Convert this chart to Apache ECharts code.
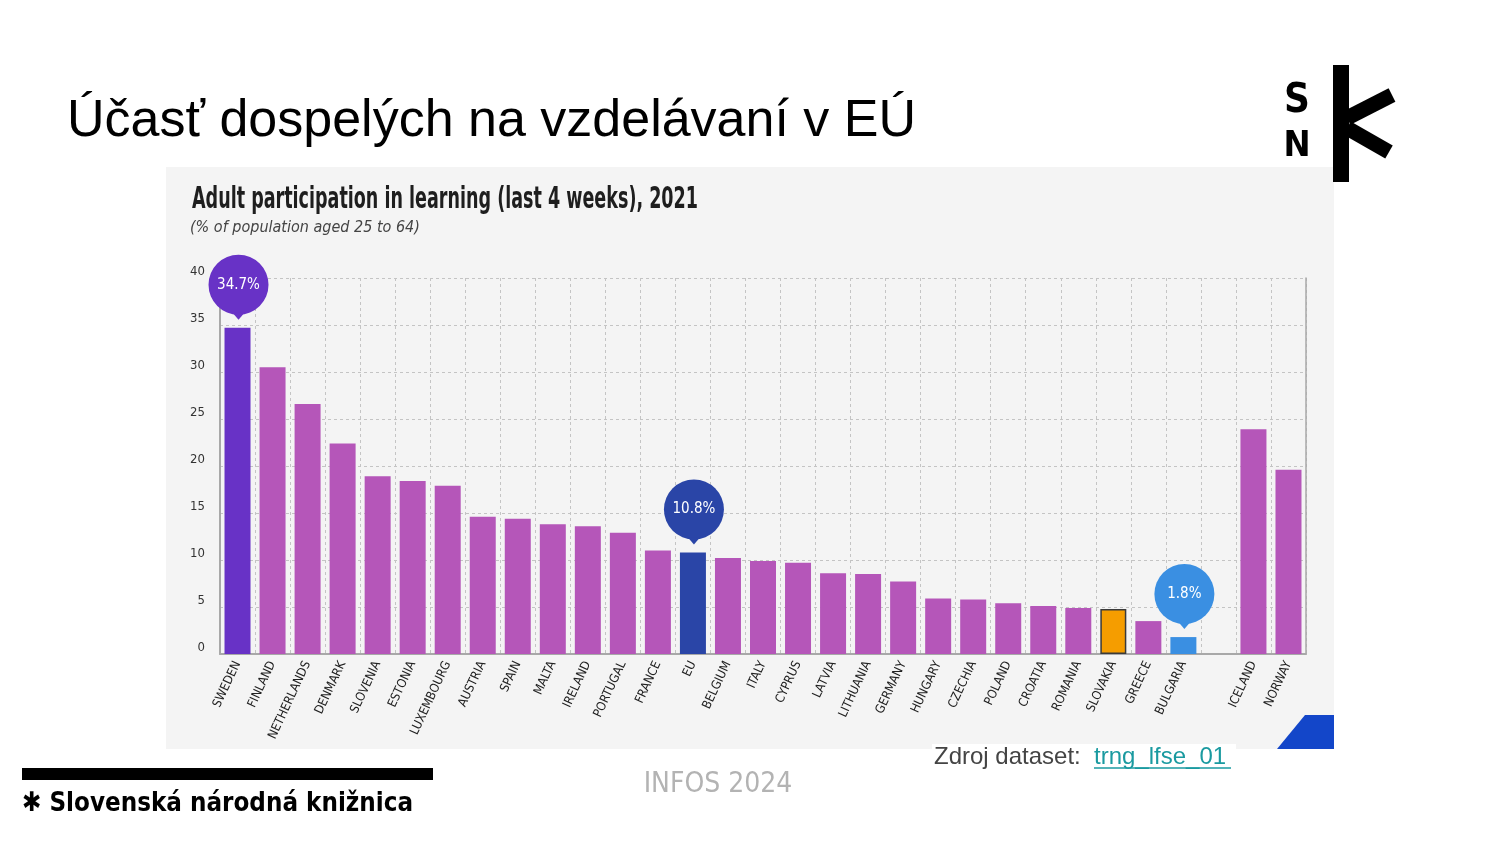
<!DOCTYPE html>
<html>
<head>
<meta charset="utf-8">
<script src="https://cdn.jsdelivr.net/npm/echarts@6/dist/echarts.min.js"></script>
<style>
html,body{margin:0;padding:0;background:#fff;}
#chart{width:1500px;height:844px;}
</style>
</head>
<body>
<div id="chart"></div>
<script>
// ---- data ----
const categories = ['SWEDEN','FINLAND','NETHERLANDS','DENMARK','SLOVENIA','ESTONIA','LUXEMBOURG','AUSTRIA','SPAIN','MALTA','IRELAND','PORTUGAL','FRANCE','EU','BELGIUM','ITALY','CYPRUS','LATVIA','LITHUANIA','GERMANY','HUNGARY','CZECHIA','POLAND','CROATIA','ROMANIA','SLOVAKIA','GREECE','BULGARIA','','ICELAND','NORWAY'];
const values = [34.7,30.5,26.6,22.4,18.9,18.4,17.9,14.6,14.4,13.8,13.6,12.9,11.0,10.8,10.2,9.9,9.7,8.6,8.5,7.7,5.9,5.8,5.4,5.1,4.9,4.8,3.5,1.8,null,23.9,19.6];
const yTicks = [0,5,10,15,20,25,30,35,40];
const bubbleCategories = ['SWEDEN','EU','BULGARIA'];

const slideTitle = 'Účasť dospelých na vzdelávaní v EÚ';
const chartTitle = 'Adult participation in learning (last 4 weeks), 2021';
const chartSubtitle = '(% of population aged 25 to 64)';
const footerLeft = '✱ Slovenská národná knižnica';
const footerMid = 'INFOS 2024';
const sourceLabel = 'Zdroj dataset: ';
const sourceLink = 'trng_lfse_01';

// ---- styles ----
const COND = "'Liberation Sans Narrow','DejaVu Sans Condensed','Roboto Condensed',sans-serif";
const ARIAL = "'Liberation Sans', Arial, sans-serif";
const colorMap = {SWEDEN:'#6832c6', EU:'#2a45a7', BULGARIA:'#3a8fe2', SLOVAKIA:'#f59d00'};
const defaultColor = '#b556b9';

const measureCtx = document.createElement('canvas').getContext('2d');
function fitScale(text, font, targetWidth) {
  measureCtx.font = font;
  return targetWidth / measureCtx.measureText(text).width;
}

const chart = echarts.init(document.getElementById('chart'));

const barData = values.map((v, i) => {
  const c = categories[i];
  const item = {value: v, itemStyle: {color: colorMap[c] || defaultColor}};
  if (c === 'SLOVAKIA') { item.itemStyle.borderColor = '#3a3a3a'; item.itemStyle.borderWidth = 1.5; }
  return item;
});
const bubbleData = bubbleCategories.map(c => { const i = categories.indexOf(c); return [i, values[i], c]; });

const titleFont = "bold 30px " + COND;
const footFont = "bold 27px " + COND;
const slideFont = "52px " + ARIAL;

const option = {
  animation: false,
  backgroundColor: '#ffffff',
  grid: {left: 220, top: 278, right: 194, bottom: 190, containLabel: false},
  xAxis: {
    type: 'category', data: categories, boundaryGap: true,
    axisLine: {show: true, lineStyle: {color: '#a8a8a8', width: 2}},
    axisTick: {show: false},
    splitLine: {show: true, lineStyle: {color: '#c4c4c4', type: [3,3], width: 1}},
    axisLabel: {rotate: 65, fontSize: 12.5, color: '#222', fontFamily: COND, margin: 8, interval: 0}
  },
  yAxis: [{
    type: 'value', min: yTicks[0], max: yTicks[yTicks.length-1], interval: yTicks[1]-yTicks[0],
    axisLine: {show: true, lineStyle: {color: '#a8a8a8', width: 2}},
    axisTick: {show: false},
    splitLine: {show: true, lineStyle: {color: '#c4c4c4', type: [3,3], width: 1}},
    axisLabel: {fontSize: 13, color: '#333', fontFamily: COND, margin: 15, verticalAlign: 'bottom'}
  },{
    type: 'value', min: yTicks[0], max: yTicks[yTicks.length-1], interval: yTicks[1]-yTicks[0], position: 'right',
    axisLine: {show: true, lineStyle: {color: '#a8a8a8', width: 1.5}},
    axisTick: {show: false}, axisLabel: {show: false}, splitLine: {show: false}
  }],
  series: [{
    type: 'bar', data: barData, barWidth: 26, z: 3
  },{
    type: 'custom', data: bubbleData, z: 5,
    renderItem: function (params, api) {
      const idx = api.value(0), v = api.value(1);
      const c = categories[idx];
      const pt = api.coord([idx, v]);
      const cx = pt[0] + 1, cy = pt[1] - 43;
      const col = colorMap[c];
      return {
        type: 'group',
        children: [
          {type: 'circle', shape: {cx: cx, cy: cy, r: 30}, style: {fill: col}},
          {type: 'polygon', shape: {points: [[cx-6, cy+28],[cx+6, cy+28],[cx, cy+35]]}, style: {fill: col}},
          {type: 'text', style: {x: cx, y: cy, text: v.toFixed(1) + '%', fill: '#fff', font: "15px " + COND, align: 'center', verticalAlign: 'middle'}}
        ]
      };
    }
  }],
  graphic: [
    {type: 'rect', z: -10, shape: {x: 166, y: 167, width: 1168, height: 582}, style: {fill: '#f4f4f4'}, silent: true},
    {type: 'polygon', z: -5, shape: {points: [[1305,715],[1334,715],[1334,749],[1277,749]]}, style: {fill: '#1346c9'}},
    {type: 'rect', z: -4, shape: {x: 932, y: 744, width: 304, height: 5}, style: {fill: '#ffffff'}},
    {type: 'text', x: 192, y: 200, scaleX: fitScale(chartTitle, titleFont, 506), style: {x: 0, y: 0, text: chartTitle, font: titleFont, fill: '#1e1e1e', verticalAlign: 'middle'}},
    {type: 'text', style: {x: 190, y: 228, text: chartSubtitle, font: "italic 16px " + COND, fill: '#444', verticalAlign: 'middle'}},
    {type: 'text', style: {x: 67, y: 122, text: slideTitle, font: slideFont, fill: '#000', verticalAlign: 'middle'}},
    // logo
    {type: 'text', style: {x: 1297, y: 102, text: 'S', font: "bold 40px " + COND, fill: '#000', align: 'center', verticalAlign: 'middle'}},
    {type: 'text', style: {x: 1297, y: 147, text: 'N', font: "bold 36px " + COND, fill: '#000', align: 'center', verticalAlign: 'middle'}},
    {type: 'rect', shape: {x: 1333, y: 65, width: 16, height: 117}, style: {fill: '#000'}},
    {type: 'line', shape: {x1: 1347, y1: 118, x2: 1392, y2: 95}, style: {stroke: '#000', lineWidth: 15, lineCap: 'butt'}},
    {type: 'line', shape: {x1: 1347, y1: 128, x2: 1389, y2: 152}, style: {stroke: '#000', lineWidth: 15, lineCap: 'butt'}},
    // footer
    {type: 'rect', shape: {x: 22, y: 768, width: 411, height: 12}, style: {fill: '#000'}},
    {type: 'text', x: 22, y: 804, scaleX: fitScale(footerLeft, footFont, 391), style: {x: 0, y: 0, text: footerLeft, font: footFont, fill: '#000', verticalAlign: 'middle'}},
    {type: 'text', style: {x: 718, y: 785, text: footerMid, font: "28px " + COND, fill: '#b3b3b3', align: 'center', verticalAlign: 'middle'}},
    {type: 'text', style: {x: 934, y: 757, text: sourceLabel, font: "24px " + ARIAL, fill: '#444', verticalAlign: 'middle'}},
    {type: 'text', style: {x: 1094, y: 757, text: sourceLink, font: "24px " + ARIAL, fill: '#1a9aa0', verticalAlign: 'middle'}},
    {type: 'line', shape: {x1: 1094, y1: 768, x2: 1231, y2: 768}, style: {stroke: '#1a9aa0', lineWidth: 1.5}}
  ]
};
chart.setOption(option);
</script>
</body>
</html>
